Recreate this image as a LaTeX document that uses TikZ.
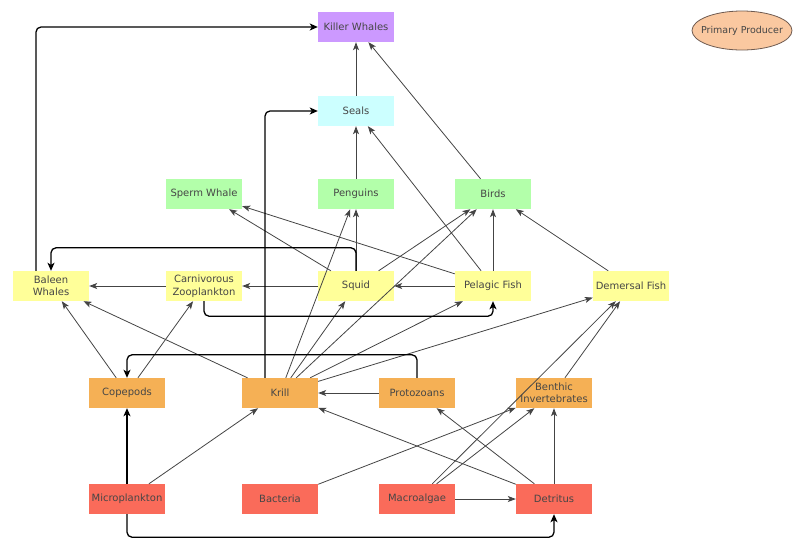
\documentclass[tikz,border=0pt]{standalone}
\usepackage{fontspec}
\setmainfont{DejaVu Sans}
\usepackage{tikz}
\usetikzlibrary{shapes,arrows.meta,positioning}
\definecolor{killercol}{RGB}{204,153,255}
\definecolor{sealcol}{RGB}{204,255,255}
\definecolor{greencol}{RGB}{179,255,170}
\definecolor{yellowcol}{RGB}{255,255,153}
\definecolor{orangecol}{RGB}{245,176,85}
\definecolor{redcol}{RGB}{250,107,90}
\definecolor{producerfill}{RGB}{250,200,160}
\definecolor{producerline}{RGB}{110,90,80}
\definecolor{textgray}{RGB}{70,70,70}
\definecolor{edgegray}{RGB}{68,68,68}

\begin{document}
\begin{tikzpicture}[x=1pt, y=-1pt,
    species/.style={rectangle, minimum width=76pt, minimum height=30pt, inner sep=0pt,
        align=center, text=textgray, font=\fontsize{10}{12.5}\selectfont},
    feeds/.style={-{Stealth[length=8pt,width=6pt,inset=2pt]}, edgegray, line width=0.8pt},
    route/.style={-{Stealth[length=8pt,width=7pt,inset=2pt]}, black, line width=1.3pt, rounded corners=5pt}]
    \useasboundingbox (0,0) rectangle (800,547);

    % Legend
    \node[ellipse, draw=producerline, fill=producerfill, line width=0.8pt, minimum width=100pt, minimum height=39pt, inner xsep=-8pt, inner ysep=0pt, text=textgray, font=\fontsize{9.5}{11}\selectfont] (producer) at (742,30.5) {Primary Producer};

    % Top predators
    \node[species, fill=killercol] (killer) at (356,27) {Killer Whales};
    \node[species, fill=sealcol] (seals) at (356,111) {Seals};
    \node[species, fill=greencol] (sperm) at (204,194) {Sperm Whale};
    \node[species, fill=greencol] (penguins) at (356,194) {Penguins};
    \node[species, fill=greencol] (birds) at (493,194) {Birds};

    % Middle level
    \node[species, fill=yellowcol] (baleen) at (51,286) {Baleen\\Whales};
    \node[species, fill=yellowcol] (carniv) at (204,286) {Carnivorous\\Zooplankton};
    \node[species, fill=yellowcol] (squid) at (356,286) {Squid};
    \node[species, fill=yellowcol] (pelagic) at (493,286) {Pelagic Fish};
    \node[species, fill=yellowcol] (demersal) at (631,286) {Demersal Fish};

    % Grazers
    \node[species, fill=orangecol] (copepods) at (127,393) {Copepods};
    \node[species, fill=orangecol] (krill) at (280,393) {Krill};
    \node[species, fill=orangecol] (protozoans) at (417,393) {Protozoans};
    \node[species, fill=orangecol] (benthic) at (554,393) {Benthic\\Invertebrates};

    % Primary producers
    \node[species, fill=redcol] (micro) at (127,499) {Microplankton};
    \node[species, fill=redcol] (bacteria) at (280,499) {Bacteria};
    \node[species, fill=redcol] (macroalgae) at (417,499) {Macroalgae};
    \node[species, fill=redcol] (detritus) at (554,499) {Detritus};

    % Straight links
    \draw[feeds] (seals) -- (killer);
    \draw[feeds] (birds) -- (killer);
    \draw[feeds] (penguins) -- (seals);
    \draw[feeds] (pelagic) -- (seals);
    \draw[feeds] (squid) -- (penguins);
    \draw[feeds] (krill) -- (penguins);
    \draw[feeds] (squid) -- (sperm);
    \draw[feeds] (pelagic) -- (sperm);
    \draw[feeds] (squid) -- (birds);
    \draw[feeds] (krill) -- (birds);
    \draw[feeds] (pelagic) -- (birds);
    \draw[feeds] (demersal) -- (birds);
    \draw[feeds] (pelagic) -- (squid);
    \draw[feeds] (squid) -- (carniv);
    \draw[feeds] (carniv) -- (baleen);
    \draw[feeds] (krill) -- (squid);
    \draw[feeds] (krill) -- (pelagic);
    \draw[feeds] (krill) -- (demersal);
    \draw[feeds] (krill) -- (baleen);
    \draw[feeds] (copepods) -- (baleen);
    \draw[feeds] (copepods) -- (carniv);
    \draw[feeds] (micro) -- (krill);
    \draw[feeds] (protozoans) -- (krill);
    \draw[feeds] (bacteria) -- (benthic);
    \draw[feeds] (detritus) -- (krill);
    \draw[feeds] (detritus) -- (protozoans);
    \draw[feeds] (detritus) -- (benthic);
    \draw[feeds] (macroalgae) -- (detritus);
    \draw[feeds] (macroalgae) -- (benthic);
    \draw[feeds] (macroalgae) -- (demersal);
    \draw[feeds] (benthic) -- (demersal);

    % Routed links
    \draw[route] ([xshift=-15pt]baleen.north) |- (killer.west);
    \draw[route] ([xshift=-15pt]krill.north) |- (seals.west);
    \draw[route] (squid.north) -- ++(0,-23) -| (baleen.north);
    \draw[route] (carniv.south) -- ++(0,15) -| (pelagic.south);
    \draw[route] (protozoans.north) -- ++(0,-23) -| (copepods.north);
    \draw[route] (micro.south) -- ++(0,23) -| (detritus.south);
    \draw[route] (micro) -- (copepods);
\end{tikzpicture}
\end{document}
